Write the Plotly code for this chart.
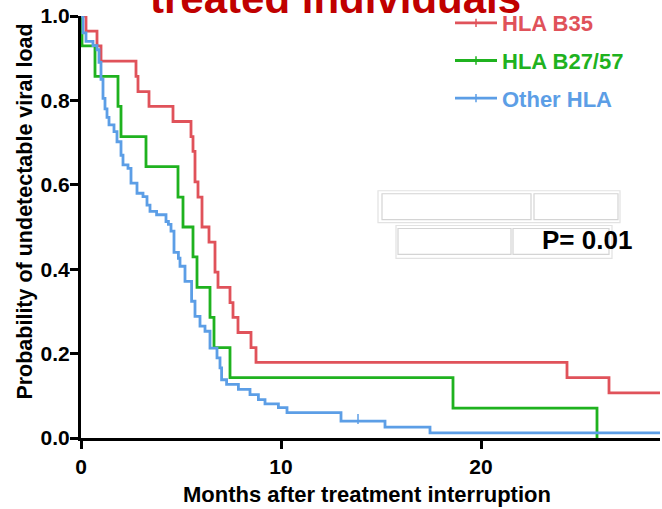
import plotly.graph_objects as go

# ---------------- data ----------------
b35_t = [0, 0.25, 0.8, 1.0, 2.75, 2.85, 3.4, 4.6, 5.5, 5.6, 5.7, 5.85, 6.05, 6.4, 6.7,
         6.85, 7.45, 7.6, 7.85, 8.5, 8.75, 24.3, 26.4, 29]
b35_s = [1.0, 0.964, 0.929, 0.893, 0.857, 0.821, 0.786, 0.75, 0.714, 0.679, 0.607, 0.571,
         0.5, 0.464, 0.393, 0.357, 0.321, 0.286, 0.25, 0.214, 0.179, 0.143, 0.107, 0.107]

b2757_t = [0, 0.05, 0.7, 1.85, 2.0, 3.25, 4.85, 5.1, 5.6, 5.8, 6.45, 6.65, 7.45, 18.6, 25.8]
b2757_s = [1.0, 0.929, 0.857, 0.786, 0.714, 0.643, 0.571, 0.5, 0.429, 0.357, 0.286, 0.214,
           0.143, 0.071, 0.0]

other_t = [0, 0.1, 0.25, 0.6, 0.8, 0.9, 1.0, 1.1, 1.2, 1.3, 1.4, 1.65, 1.8, 2.0, 2.1, 2.35,
           2.5, 2.8, 3.1, 3.3, 3.45, 3.78, 4.25, 4.37, 4.5, 4.65, 4.87, 4.95, 5.2, 5.53,
           5.7, 5.95, 6.2, 6.45, 6.8, 6.95, 7.03, 7.28, 7.87, 8.45, 8.87, 9.2, 9.87, 10.3,
           13.0, 15.2, 17.45, 29]
other_s = [1.0, 0.96, 0.94, 0.93, 0.92, 0.89, 0.85, 0.805, 0.78, 0.76, 0.742, 0.726, 0.702,
           0.67, 0.647, 0.639, 0.604, 0.58, 0.572, 0.552, 0.537, 0.529, 0.513, 0.506, 0.49,
           0.44, 0.426, 0.407, 0.371, 0.324, 0.288, 0.265, 0.253, 0.213, 0.19, 0.166, 0.138,
           0.127, 0.115, 0.103, 0.091, 0.081, 0.072, 0.06, 0.04, 0.026, 0.012, 0.012]

censor_other_t = [13.85]
censor_other_s = [0.045]

series_names = ["HLA B35", "HLA B27/57", "Other HLA"]
colors = ["#e0525a", "#1fb21f", "#5c9ee6"]

x_ticks = [0, 10, 20]
y_ticks = [0.0, 0.2, 0.4, 0.6, 0.8, 1.0]
p_text = "P= 0.01"

# ---------------- layout geometry ----------------
W, H = 662, 509
L, R, T, B = 81, 2, 13, 71
PW, PH = W - L - R, H - T - B


def px_x(px):
    return (px - L) / PW


def px_y(py):
    return (H - B - py) / PH


FONT = "Arial, Liberation Sans, sans-serif"

fig = go.Figure()

curves = [(b35_t, b35_s), (b2757_t, b2757_s), (other_t, other_s)]
for (t, s), c in zip(curves, colors):
    fig.add_trace(go.Scatter(x=t, y=s, mode="lines", line=dict(color=c, width=2.8, shape="hv"),
                             showlegend=False, hoverinfo="skip"))

fig.add_trace(go.Scatter(x=censor_other_t, y=censor_other_s, mode="markers",
                         marker=dict(symbol="line-ns", size=7, line=dict(color=colors[2], width=1.5)),
                         showlegend=False, hoverinfo="skip"))

for i, (n, c) in enumerate(zip(series_names, colors)):
    fig.add_trace(go.Scatter(x=[None], y=[None], mode="lines+markers",
                             name=f"<span style='color:{c}'>{n}</span>",
                             legendgroup=str(i),
                             line=dict(color=c, width=2.8),
                             marker=dict(symbol="line-ns", size=6, line=dict(color=c, width=1.5))))

shapes = []


def rect(x0, y0, x1, y1, color="#d4d4d4", w=1.2):
    shapes.append(dict(type="rect", xref="paper", yref="paper", x0=px_x(x0), x1=px_x(x1),
                       y0=px_y(y1), y1=px_y(y0), line=dict(color=color, width=w),
                       fillcolor="rgba(0,0,0,0)", layer="above"))


rect(378, 189, 620, 221, "#e2e2e2")
rect(382, 192, 531, 218)
rect(534, 192, 618, 218)
rect(396, 224, 612, 257, "#e2e2e2")
rect(398, 227, 511, 253)
rect(513, 227, 609, 253)

annotations = [
    dict(text="treated individuals", x=px_x(335), y=px_y(-5), xref="paper", yref="paper",
         xanchor="center", yanchor="middle", showarrow=False,
         font=dict(family=FONT, size=42, color="#c00000", weight="bold")),
    dict(text=p_text, x=px_x(587), y=px_y(239), xref="paper", yref="paper",
         xanchor="center", yanchor="middle", showarrow=False,
         font=dict(family=FONT, size=26, color="black", weight="bold")),
    dict(text="Probability of undetectable viral load", x=px_x(25), y=px_y(210), xref="paper",
         yref="paper", xanchor="center", yanchor="middle", showarrow=False, textangle=-90,
         font=dict(family=FONT, size=21.5, color="black", weight="bold")),
    dict(text="Months after treatment interruption", x=px_x(367), y=px_y(495), xref="paper",
         yref="paper", xanchor="center", yanchor="middle", showarrow=False,
         font=dict(family=FONT, size=22, color="black", weight="bold")),
]

fig.update_layout(
    width=W, height=H,
    margin=dict(l=L, r=R, t=T, b=B),
    paper_bgcolor="white", plot_bgcolor="white",
    shapes=shapes, annotations=annotations,
    legend=dict(x=px_x(450), y=px_y(-1), xanchor="left", yanchor="top", xref="paper", yref="paper",
                font=dict(family=FONT, size=22, weight="bold"), itemwidth=42, tracegroupgap=6,
                bgcolor="rgba(0,0,0,0)"),
    xaxis=dict(range=[0, 28.95], tickvals=x_ticks, ticktext=[str(v) for v in x_ticks],
               showgrid=False, zeroline=False, showline=True, linecolor="black", linewidth=3,
               ticks="outside", ticklen=8, tickwidth=2.5, tickcolor="black",
               tickfont=dict(family=FONT, size=21, color="black", weight="bold")),
    yaxis=dict(range=[0, 1.0], tickvals=y_ticks, ticktext=[f"{v:.1f}" for v in y_ticks],
               showgrid=False, zeroline=False, showline=True, linecolor="black", linewidth=3,
               ticks="outside", ticklen=8, tickwidth=2.5, tickcolor="black",
               ticklabelstandoff=-4,
               tickfont=dict(family=FONT, size=21, color="black", weight="bold")),
)

fig.write_html("out.html")
